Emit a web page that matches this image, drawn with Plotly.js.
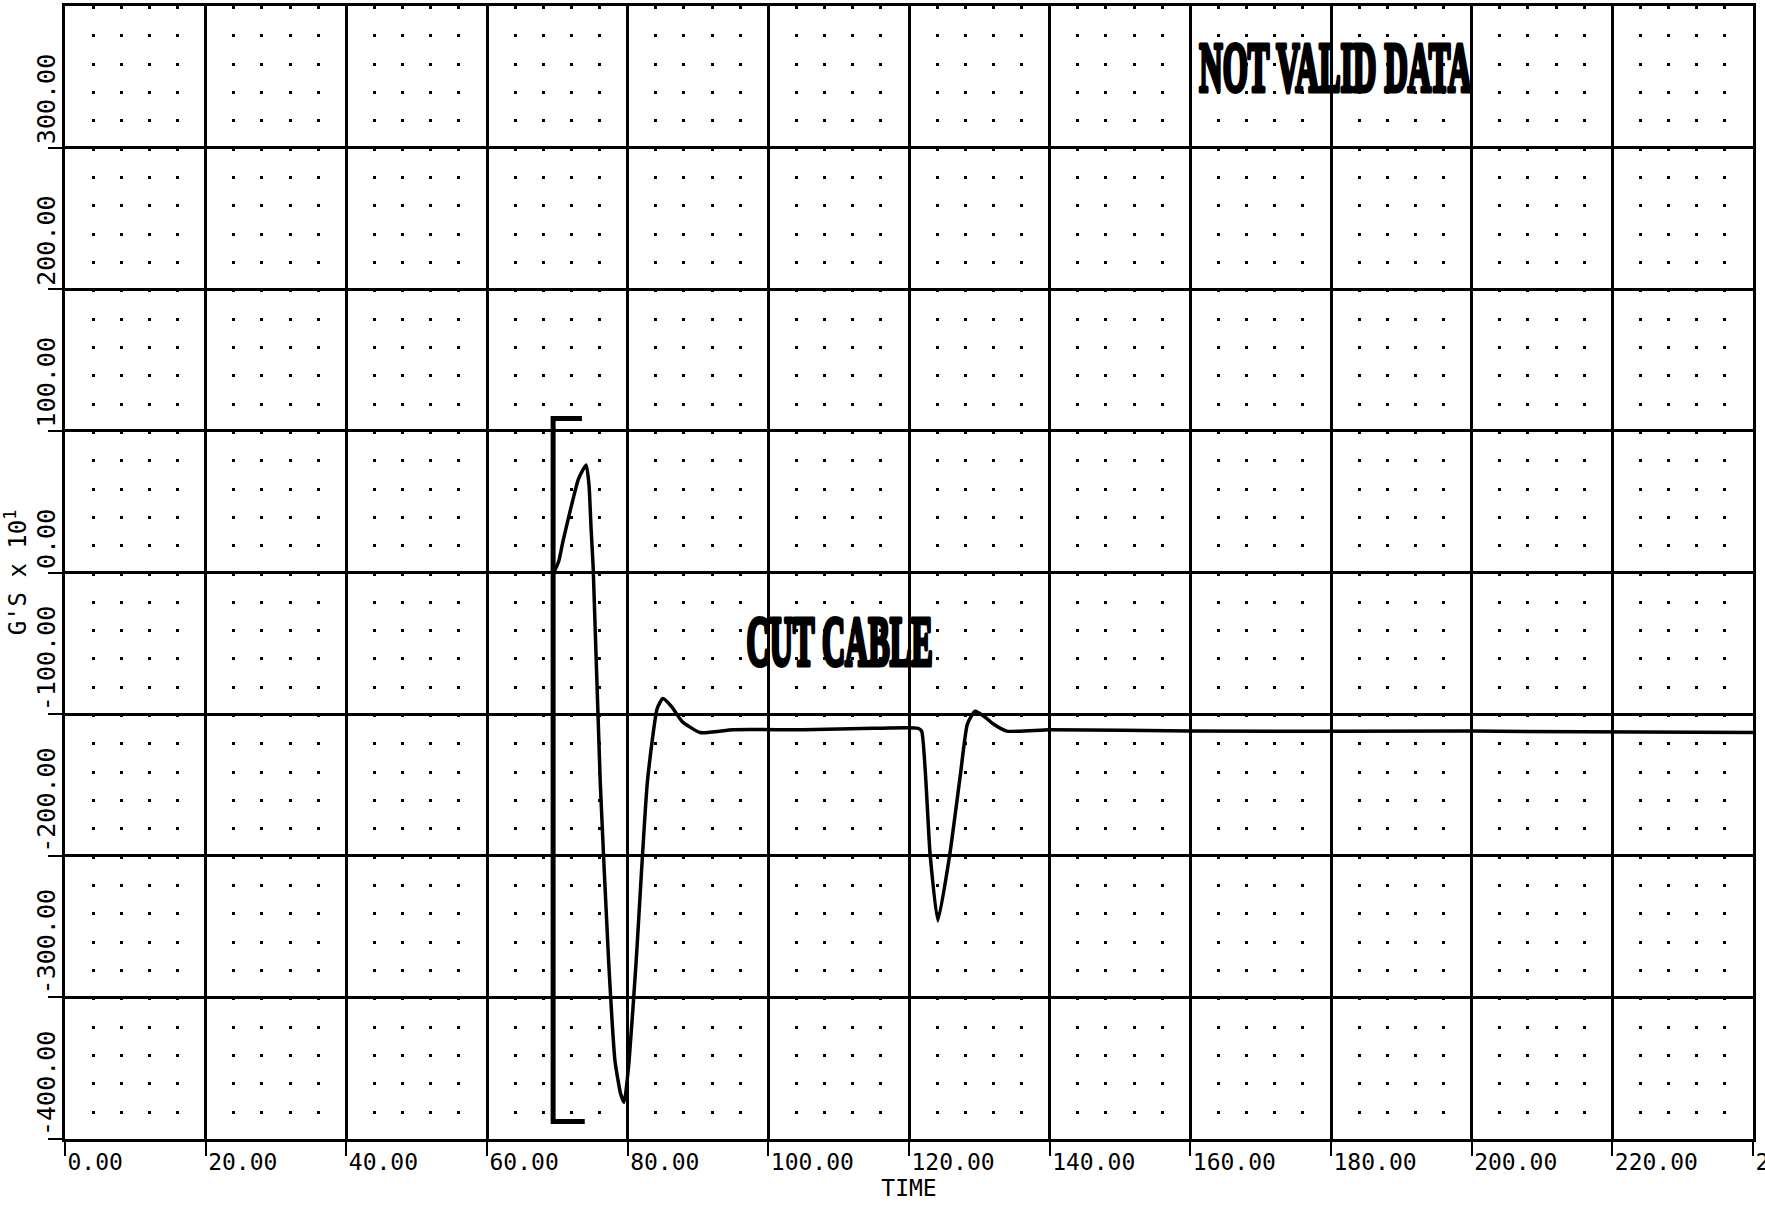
<!DOCTYPE html>
<html><head><meta charset="utf-8">
<script src="https://cdn.plot.ly/plotly-3.0.1.min.js"></script>
<style>html,body{margin:0;padding:0;background:#fff;overflow:hidden;} #chart{width:1765px;height:1207px;}</style>
</head><body><div id="chart"></div>
<script>
// ---- data ----
const timeValues = [69.5, 70.2, 70.8, 71.8, 73.0, 74.1, 74.5, 74.8, 75.1, 76.1, 77.3, 78.2, 79.0, 79.5, 80.2, 81.2, 82.8, 84.2, 85.0, 86.3, 87.7, 90.3, 95, 105, 115, 121.3, 121.8, 123.0, 124.1, 125.8, 127.3, 128.3, 129.4, 130.8, 132.0, 133.9, 140, 160, 200, 240];
const gValues    = [0, 8, 22, 43, 66, 76, 62, 31, 3, -148, -275, -345, -368, -374, -345, -275, -148, -96, -89, -95, -105, -113, -111, -111, -110, -110, -112, -199, -246, -199, -143, -107, -98, -102, -107, -112, -111, -112, -112, -113];
const bracketTime = [73.5, 69.4, 69.4, 73.9];
const bracketG    = [108.8, 108.8, -387.7, -387.7];

const xTickVals = [0, 20, 40, 60, 80, 100, 120, 140, 160, 180, 200, 220, 240];
const xTickText = ['0.00', '20.00', '40.00', '60.00', '80.00', '100.00', '120.00', '140.00', '160.00', '180.00', '200.00', '220.00', '240.00'];
const yTickVals = [-400, -300, -200, -100, 0, 100, 200, 300];
const yTickText = ['-400.00', '-300.00', '-200.00', '-100.00', '0.00', '100.00', '200.00', '300.00'];

const noteText = ['CUT CABLE', 'NOT VALID DATA'];
const noteTime = [110.1, 180.6];
const noteG    = [-48.7, 356.6];
const noteWidth = [186, 272];

// ---- build chart ----
const mono = 'DejaVu Sans Mono, monospace';

const traces = [
  { x: timeValues, y: gValues, type: 'scatter', mode: 'lines',
    line: { color: '#000', width: 3.5, shape: 'spline', smoothing: 0.5 }, hoverinfo: 'skip' },
  { x: bracketTime, y: bracketG, type: 'scatter', mode: 'lines',
    line: { color: '#000', width: 5 }, hoverinfo: 'skip' }
];

const annotations = [];
yTickVals.forEach((v, i) => {
  annotations.push({
    xref: 'paper', x: 0, xanchor: 'right', xshift: -2,
    yref: 'y', y: v, yanchor: 'bottom', yshift: 1,
    text: yTickText[i], textangle: -90, showarrow: false,
    font: { family: mono, size: 25, color: '#000' }
  });
});
noteText.forEach((t, i) => {
  annotations.push({
    xref: 'x', x: noteTime[i], yref: 'y', y: noteG[i],
    xanchor: 'center', yanchor: 'middle', text: '<b>' + t + '</b>',
    showarrow: false, font: { family: 'Liberation Serif, DejaVu Serif, serif', size: 70, color: '#000' }
  });
});

const layout = {
  width: 1765, height: 1207,
  margin: { l: 65, r: 12, t: 6, b: 68 },
  paper_bgcolor: '#fff', plot_bgcolor: '#fff',
  showlegend: false,
  xaxis: {
    range: [0, 240], tickvals: xTickVals, ticktext: xTickText,
    ticks: 'outside', ticklen: 14, tickwidth: 2, tickcolor: '#000',
    ticklabelposition: 'outside right', ticklabeloverflow: 'allow',
    tickfont: { family: mono, size: 23, color: '#000' },
    showgrid: true, gridcolor: '#000', gridwidth: 3,
    minor: { dtick: 4, showgrid: true, gridcolor: '#000', gridwidth: 3, griddash: '3px,25.325px' },
    showline: true, linecolor: '#000', linewidth: 3, mirror: true, zeroline: false,
    title: { text: 'TIME', font: { family: mono, size: 23, color: '#000' }, standoff: 2 }
  },
  yaxis: {
    range: [-400, 400], tickvals: yTickVals, showticklabels: false,
    ticks: 'outside', ticklen: 14, tickwidth: 2, tickcolor: '#000',
    showgrid: true, gridcolor: '#000', gridwidth: 3,
    showline: true, linecolor: '#000', linewidth: 3, mirror: true, zeroline: false,
    title: { text: "G'S x 10<sup>1</sup>", font: { family: mono, size: 24, color: '#000' }, standoff: 22 }
  },
  annotations: annotations
};

Plotly.newPlot('chart', traces, layout, { staticPlot: true }).then(() => {
  document.querySelectorAll('.annotation-text').forEach(el => {
    const txt = el.textContent;
    const idx = noteText.indexOf(txt);
    if (idx >= 0) {
      el.setAttribute('textLength', noteWidth[idx]);
      el.setAttribute('lengthAdjust', 'spacingAndGlyphs');
      el.style.stroke = '#000';
      el.style.strokeWidth = '5px';
      el.style.strokeLinejoin = 'round';
      el.querySelectorAll('tspan').forEach(ts => { ts.setAttribute('textLength', noteWidth[idx]); ts.setAttribute('lengthAdjust', 'spacingAndGlyphs'); });
    }
  });
});
</script>
</body></html>
